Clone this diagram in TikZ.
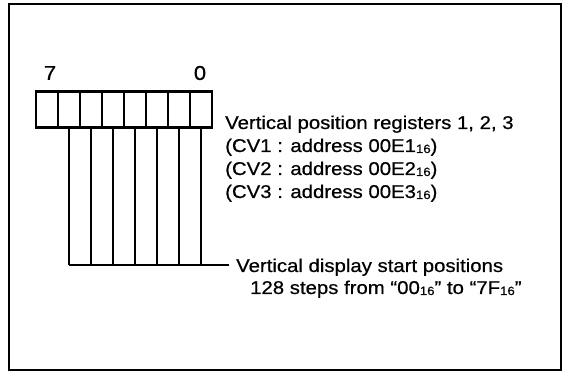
\documentclass[tikz,border=0pt]{standalone}
\usepackage{fontspec}
\setmainfont{Liberation Sans}[FakeStretch=1.1,FakeBold=0.6]
\newcommand\subsix{\raisebox{-1pt}{\fontsize{12}{12}\selectfont 16}}
\begin{document}
\begin{tikzpicture}[x=1pt,y=-1pt,
  cell/.style={draw,line width=2.8pt,minimum width=22pt,minimum height=36pt,inner sep=0pt,outer sep=0pt},
  txt/.style={anchor=base west,inner sep=0pt,font=\fontsize{18.5}{22}\selectfont},
  bitlbl/.style={inner sep=0pt,font=\fontsize{20}{22}\selectfont},
  wire/.style={line width=1.2pt}]
\useasboundingbox (0,0) rectangle (566,371);
\draw[line width=2.2pt] (9,4) rectangle (561,370);
\foreach \b in {7,...,0} \node[cell] (b\b) at ({47+22*(7-\b)},109.5) {};
\node[bitlbl] (l7) at (50,73) {7};
\node[bitlbl] (l0) at (200,73) {0};
\coordinate (base) at (0,265);
\coordinate (lineend) at (229,265);
\foreach \b in {6,...,0} \draw[wire] (b\b.south) -- (b\b.south |- base);
\draw[wire] (b6.south |- base) -- (lineend);
\node[txt] (r1) at (225,129) {Vertical position registers 1, 2, 3};
\node[txt] (r2) at (225,152) {(CV1 : address 00E1\subsix)};
\node[txt] (r3) at (225,175) {(CV2 : address 00E2\subsix)};
\node[txt] (r4) at (225,198) {(CV3 : address 00E3\subsix)};
\node[txt] (d1) at (236,272) {Vertical display start positions};
\node[txt] (d2) at (250,294) {128 steps from “00\subsix” to “7F\subsix”};
\end{tikzpicture}
\end{document}
